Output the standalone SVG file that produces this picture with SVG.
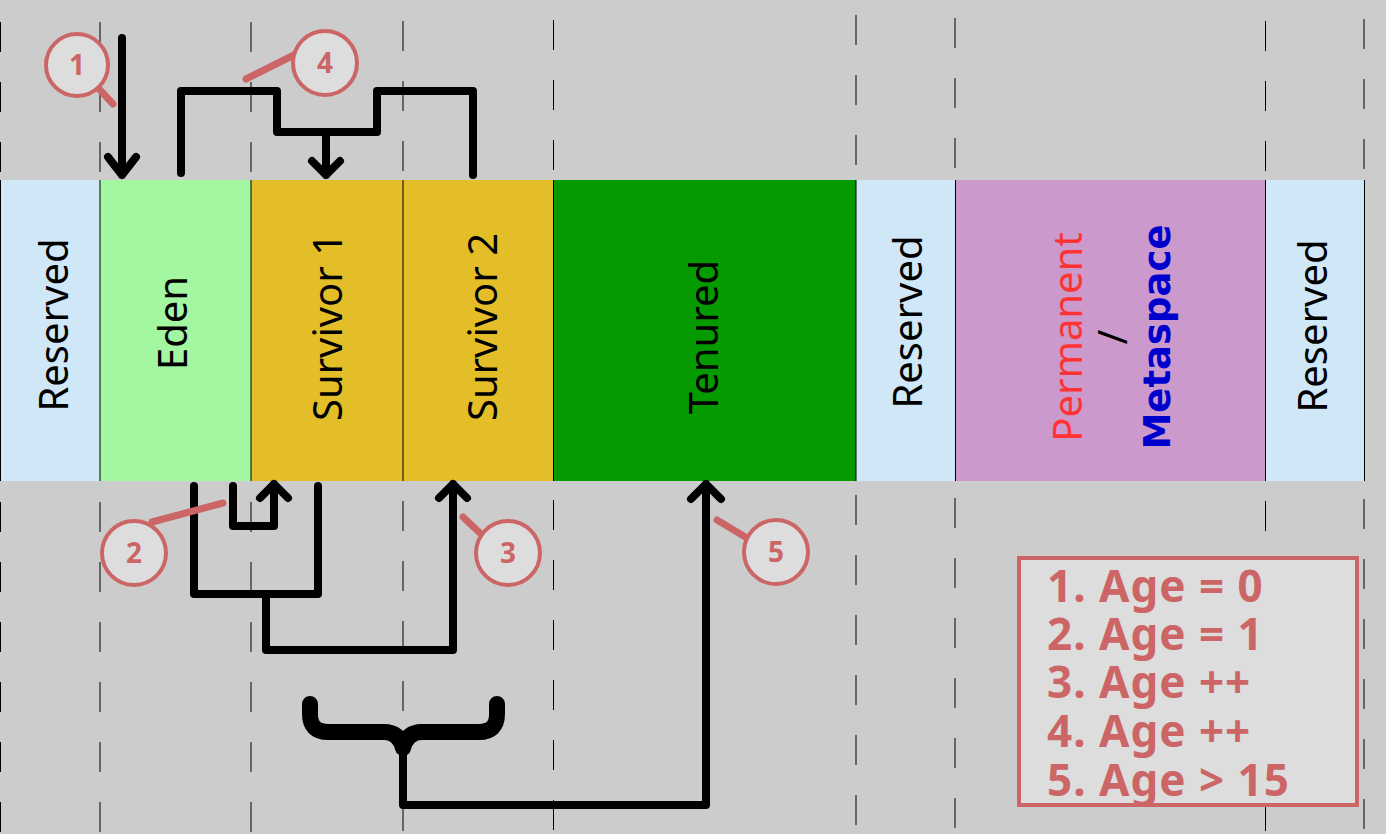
<svg xmlns="http://www.w3.org/2000/svg" width="1386" height="834" viewBox="0 0 1386 834">
<style>
.grid{stroke:#000;stroke-width:1;stroke-dasharray:30 30}
.res{fill:#d0e7f7}
.sep{stroke:#000;stroke-width:1}
.lbl{font-family:"Noto Sans","DejaVu Sans",sans-serif;font-size:40px;text-anchor:middle;fill:#000}
.conn{fill:none;stroke:#000;stroke-width:8;stroke-linecap:round;stroke-linejoin:round}
.callout circle{fill:#dddddd;stroke:#cc6666;stroke-width:4}
.callout line{stroke:#cc6666;stroke-width:7;stroke-linecap:round}
.callout text{font-family:"Noto Sans","DejaVu Sans",sans-serif;font-weight:bold;font-size:28px;fill:#cc6666;text-anchor:middle}
.leg{font-family:"Noto Sans","DejaVu Sans",sans-serif;font-weight:bold;font-size:44px;letter-spacing:1px;fill:#cc6666}
</style>
<rect width="1386" height="834" fill="#cccccc"/>
<g id="grid">
<line class="grid" x1="0.5" y1="22" x2="0.5" y2="834"/>
<line class="grid" x1="100" y1="22" x2="100" y2="834"/>
<line class="grid" x1="251" y1="22" x2="251" y2="834"/>
<line class="grid" x1="403" y1="21" x2="403" y2="834"/>
<line class="grid" x1="553.5" y1="20" x2="553.5" y2="834"/>
<line class="grid" x1="856" y1="15" x2="856" y2="834"/>
<line class="grid" x1="955" y1="18" x2="955" y2="834"/>
<line class="grid" x1="1265.5" y1="21" x2="1265.5" y2="834"/>
<line class="grid" x1="1364" y1="19" x2="1364" y2="834"/>
</g>
<g id="reserved-1"><rect class="res" x="0" y="180" width="100" height="301"/><text class="lbl" transform="translate(68 325) rotate(-90)">Reserved</text></g>
<g id="eden"><rect x="100" y="180" width="151" height="301" fill="#a2f7a0"/><text class="lbl" transform="translate(187 323) rotate(-90)">Eden</text></g>
<g id="survivor-1"><rect x="251" y="180" width="152" height="301" fill="#e3be28"/><text class="lbl" transform="translate(342 327) rotate(-90)">Survivor 1</text></g>
<g id="survivor-2"><rect x="403" y="180" width="150" height="301" fill="#e3be28"/><text class="lbl" transform="translate(497 327) rotate(-90)">Survivor 2</text></g>
<g id="tenured"><rect x="553" y="180" width="303" height="301" fill="#059a00"/><text class="lbl" transform="translate(718 337) rotate(-90)">Tenured</text></g>
<g id="reserved-2"><rect class="res" x="856" y="180" width="99" height="301"/><text class="lbl" transform="translate(922 322) rotate(-90)">Reserved</text></g>
<g id="permanent-metaspace"><rect x="955" y="180" width="311" height="301" fill="#cc99cc"/>
<text class="lbl" style="fill:#ff3333" transform="translate(1082 337) rotate(-90)">Permanent</text>
<text class="lbl" transform="translate(1127 337) rotate(-90)">/</text>
<text transform="translate(1170 337) rotate(-90)" font-family="'DejaVu Sans',sans-serif" font-weight="bold" font-size="37" fill="#0000cc" text-anchor="middle">Metaspace</text></g>
<g id="reserved-3"><rect class="res" x="1266" y="180" width="98" height="301"/><text class="lbl" transform="translate(1327 326) rotate(-90)">Reserved</text></g>
<g id="separators">
<line class="sep" x1="0.5" y1="180" x2="0.5" y2="481"/>
<line class="sep" x1="100" y1="180" x2="100" y2="481"/>
<line class="sep" x1="251" y1="180" x2="251" y2="481"/>
<line class="sep" x1="403" y1="180" x2="403" y2="481"/>
<line class="sep" x1="553.5" y1="180" x2="553.5" y2="481"/>
<line class="sep" x1="856" y1="180" x2="856" y2="481"/>
<line class="sep" x1="955.5" y1="180" x2="955.5" y2="481"/>
<line class="sep" x1="1265.5" y1="180" x2="1265.5" y2="481"/>
<line class="sep" x1="1364.5" y1="180" x2="1364.5" y2="481"/>
</g>
<g id="connectors">
<path class="conn" d="M122 38 V175 M108 157 L122 175 L136 157"/>
<path class="conn" d="M181 173 V91 H277 V132 H377 V91 H473 V175"/>
<path class="conn" d="M326 132 V175 M312 161 L326 175 L340 161"/>
<path class="conn" d="M194 486 V594 H318 V486"/>
<path class="conn" d="M233 486 V526 H274 V484 M260 498 L274 484 L288 498"/>
<path class="conn" d="M266 594 V650 H453 V484 M439 498 L453 484 L467 498"/>
<path d="M310 704 V714 Q310 732 328 732 H384 Q399 732 403 748 Q407 732 422 732 H479 Q497 732 497 714 V704" fill="none" stroke="#000" stroke-width="16" stroke-linecap="round" stroke-linejoin="round"/>
<path class="conn" d="M403 745 V805 H706 V484 M691 499 L706 484 L721 499"/>
</g>
<g id="callout-1" class="callout"><line x1="99" y1="89" x2="113" y2="104"/><circle cx="77" cy="65" r="31"/><text x="77" y="75">1</text></g>
<g id="callout-4" class="callout"><line x1="294" y1="55" x2="246" y2="79"/><circle cx="325" cy="63" r="32"/><text x="325" y="73">4</text></g>
<g id="callout-2" class="callout"><line x1="152" y1="522" x2="223" y2="503"/><circle cx="134" cy="553" r="32"/><text x="134" y="563">2</text></g>
<g id="callout-3" class="callout"><line x1="482" y1="535" x2="463" y2="517"/><circle cx="508" cy="553" r="32"/><text x="508" y="563">3</text></g>
<g id="callout-5" class="callout"><line x1="747" y1="538" x2="717" y2="520"/><circle cx="776" cy="552" r="32"/><text x="776" y="562">5</text></g>
<g id="legend">
<rect x="1019" y="558" width="338" height="247" fill="#dddddd" stroke="#cc6666" stroke-width="4"/>
<text class="leg"><tspan x="1047" y="602">1. Age = 0</tspan><tspan x="1047" y="650">2. Age = 1</tspan><tspan x="1047" y="698">3. Age ++</tspan><tspan x="1047" y="747">4. Age ++</tspan><tspan x="1047" y="796">5. Age &gt; 15</tspan></text>
</g>
</svg>
